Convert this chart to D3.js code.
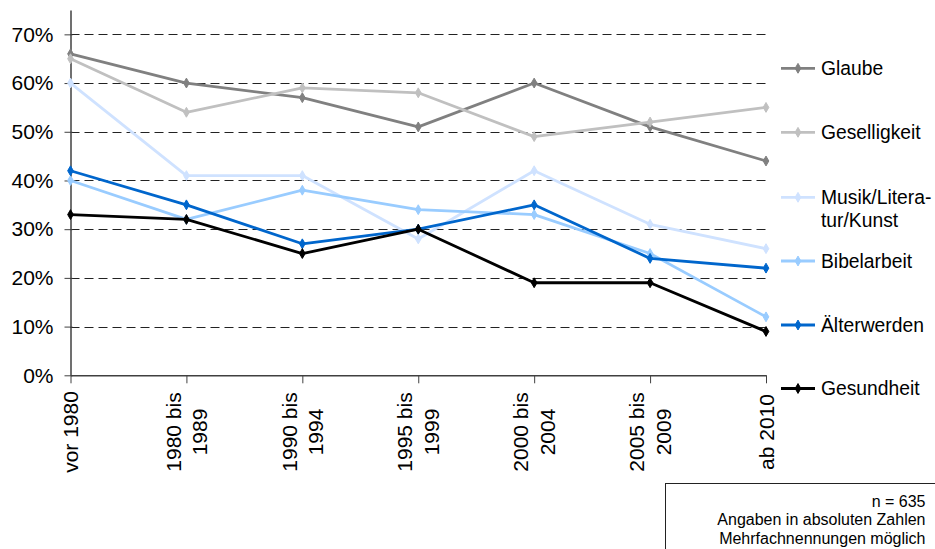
<!DOCTYPE html>
<html>
<head>
<meta charset="utf-8">
<script src="https://cdn.jsdelivr.net/npm/d3@7"></script>
<style>
  html, body { margin: 0; padding: 0; background: #fff; }
  svg { display: block; font-family: "Liberation Sans", Arial, sans-serif; }
</style>
</head>
<body>
<svg id="chart" width="935" height="549"></svg>
<script>
const categories = [["vor 1980"], ["1980 bis", "1989"], ["1990 bis", "1994"], ["1995 bis", "1999"], ["2000 bis", "2004"], ["2005 bis", "2009"], ["ab 2010"]];
const glaube       = [66, 60, 57, 51, 60, 51, 44];
const geselligkeit = [65, 54, 59, 58, 49, 52, 55];
const musik        = [60, 41, 41, 28, 42, 31, 26];
const bibelarbeit  = [40, 32, 38, 34, 33, 25, 12];
const aelterwerden = [42, 35, 27, 30, 35, 24, 22];
const gesundheit   = [33, 32, 25, 30, 19, 19, 9];
const seriesNames = [["Glaube"], ["Geselligkeit"], ["Musik/Litera-", "tur/Kunst"], ["Bibelarbeit"], ["Älterwerden"], ["Gesundheit"]];
const seriesColors = ["#808080", "#c0c0c0", "#cfe2ff", "#99ccff", "#0066cc", "#000000"];
const yTicks = [0, 10, 20, 30, 40, 50, 60, 70];
const noteLines = ["n = 635", "Angaben in absoluten Zahlen", "Mehrfachnennungen möglich"];

const seriesValues = [glaube, geselligkeit, musik, bibelarbeit, aelterwerden, gesundheit];
const series = seriesNames.map((n, i) => ({ name: n, color: seriesColors[i], values: seriesValues[i] }));

const svg = d3.select("#chart");
const catKeys = categories.map(c => c.join(" "));

const x = d3.scalePoint().domain(catKeys).range([70.5, 766]);
const y = d3.scaleLinear().domain([0, 75]).range([375.3, 10]);

// gridlines
svg.append("g").selectAll("line").data(yTicks.filter(t => t > 0)).join("line")
  .attr("x1", 70.5).attr("x2", 766)
  .attr("y1", d => Math.round(y(d)) + 0.5).attr("y2", d => Math.round(y(d)) + 0.5)
  .attr("stroke", "#222").attr("stroke-width", 1).attr("stroke-dasharray", "9,5");

// y axis
const yAxis = d3.axisLeft(y).tickValues(yTicks).tickFormat(d => d + "%").tickSize(6).tickSizeOuter(0);
const yg = svg.append("g").attr("transform", "translate(70.5,0)").call(yAxis);
yg.select(".domain").attr("stroke", "#404040").attr("stroke-width", 1.5);
yg.selectAll(".tick line").attr("stroke", "#404040").attr("x2", 2).attr("x1", -6);
yg.selectAll(".tick text").attr("x", -17).attr("font-size", 21).attr("fill", "#000")
  .attr("font-family", "Liberation Sans, Arial, sans-serif");

// x axis
const xAxis = d3.axisBottom(x).tickSize(8).tickSizeOuter(0).tickFormat("");
const xg = svg.append("g").attr("transform", "translate(0,375.3)").call(xAxis);
xg.select(".domain").attr("stroke", "#404040").attr("stroke-width", 1.5);
xg.selectAll(".tick line").attr("stroke", "#404040");

// x labels (rotated)
const lblG = svg.append("g");
categories.forEach((lines, i) => {
  const cx = x(catKeys[i]);
  const lh = 26.6;
  const n = lines.length;
  lines.forEach((ln, j) => {
    const base = cx + 7.5 + (j - (n - 1) / 2) * lh;
    lblG.append("text")
      .attr("transform", `translate(${base},432) rotate(-90)`)
      .attr("text-anchor", "middle")
      .attr("font-size", 21).attr("fill", "#000")
      .text(ln);
  });
});

// lines
const line = d3.line().x((d, i) => x(catKeys[i])).y(d => y(d));
const diamond = d3.symbol().type(d3.symbolDiamond).size(28);

series.forEach(s => {
  const g = svg.append("g");
  g.append("path").datum(s.values).attr("d", line)
    .attr("fill", "none").attr("stroke", s.color).attr("stroke-width", 2.8)
    .attr("stroke-linejoin", "round");
  g.selectAll("path.m").data(s.values).join("path").attr("class", "m")
    .attr("d", diamond)
    .attr("transform", (d, i) => `translate(${x(catKeys[i])},${y(d)})`)
    .attr("fill", s.color).attr("stroke", s.color).attr("stroke-width", 1);
});

// legend
const legendY = [68.3, 132.3, 197.3, 261, 325, 388.5];
const lg = svg.append("g");
series.forEach((s, i) => {
  const ly = legendY[i];
  lg.append("line").attr("x1", 781).attr("x2", 815).attr("y1", ly).attr("y2", ly)
    .attr("stroke", s.color).attr("stroke-width", 2.8);
  lg.append("path").attr("d", diamond).attr("transform", `translate(798,${ly})`)
    .attr("fill", s.color).attr("stroke", s.color);
  s.name.forEach((t, j) => {
    lg.append("text").attr("x", 821).attr("y", ly + 6.8 + j * 23.3)
      .attr("font-size", 19.3).attr("fill", "#000").text(t);
  });
});

// note box
svg.append("rect").attr("x", 665.5).attr("y", 483.5).attr("width", 300).attr("height", 100)
  .attr("fill", "#fff").attr("stroke", "#222").attr("stroke-width", 1);
noteLines.forEach((t, i) => {
  svg.append("text").attr("x", 925.5).attr("y", 507 + i * 18.3)
    .attr("text-anchor", "end").attr("font-size", 16).attr("fill", "#000").text(t);
});
</script>
</body>
</html>
